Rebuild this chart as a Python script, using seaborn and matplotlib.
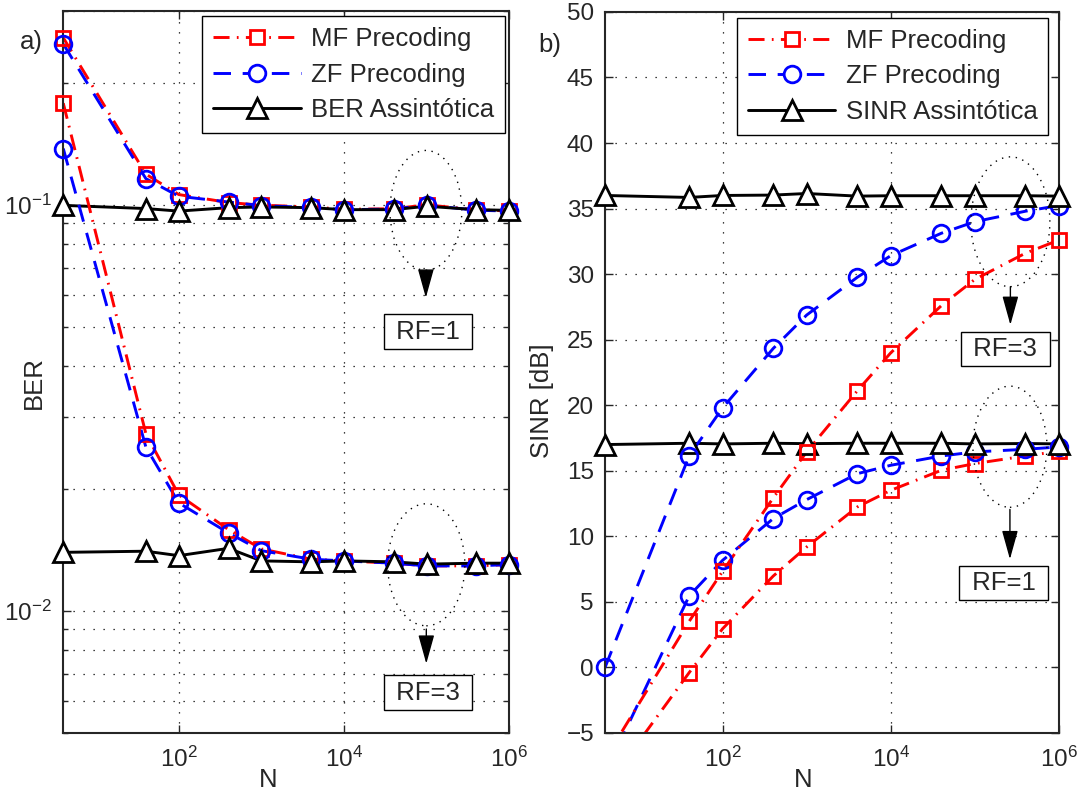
import numpy as np
import pandas as pd
import matplotlib
matplotlib.use("Agg")
import matplotlib.pyplot as plt
import seaborn as sns
from matplotlib.lines import Line2D
from matplotlib.patches import Ellipse
from matplotlib.ticker import LogLocator, NullLocator, NullFormatter, FixedLocator

sns.set_style("ticks")
plt.rcParams['font.family'] = ['Liberation Sans', 'DejaVu Sans']
plt.rcParams['mathtext.fontset'] = 'custom'
plt.rcParams['mathtext.rm'] = 'Liberation Sans'
plt.rcParams['axes.unicode_minus'] = True

# number of antennas
N = [4, 40, 100, 400, 1000, 4000, 1e4, 4e4, 1e5, 4e5, 1e6]

# a) BER
ber_mf_rf1 = [0.258, 0.119, 0.106, 0.1013, 0.0998, 0.0988, 0.0975, 0.0978, 0.1, 0.0972, 0.0966]
ber_zf_rf1 = [0.249, 0.116, 0.105, 0.1016, 0.0995, 0.0985, 0.0973, 0.0976, 0.0998, 0.097, 0.0965]
ber_asy_rf1 = [0.0997, 0.0979, 0.0965, 0.0984, 0.0988, 0.0984, 0.0973, 0.0973, 0.0992, 0.0973, 0.0969]
ber_mf_rf3 = [0.178, 0.0273, 0.0193, 0.01585, 0.0142, 0.0134, 0.01327, 0.0131, 0.0129, 0.0129, 0.013]
ber_zf_rf3 = [0.1376, 0.0253, 0.01844, 0.01555, 0.01406, 0.0134, 0.01327, 0.0131, 0.0129, 0.0129, 0.013]
ber_asy_rf3 = [0.01393, 0.01402, 0.01367, 0.01425, 0.01327, 0.0132, 0.01327, 0.0132, 0.01303, 0.0131, 0.0131]

# b) SINR [dB]
sinr_mf_rf1 = [-9.2, -0.4, 2.95, 6.97, 9.19, 12.24, 13.51, 15.04, 15.55, 16.13, 16.49]
sinr_zf_rf1 = [-8.1, 5.45, 8.17, 11.35, 12.8, 14.78, 15.42, 16.13, 16.44, 16.64, 16.82]
sinr_asy_rf1 = [17.0, 17.1, 17.05, 17.1, 17.07, 17.1, 17.1, 17.1, 17.05, 17.08, 17.05]
sinr_mf_rf3 = [-7.0, 3.51, 7.33, 12.93, 16.44, 21.1, 24.0, 27.6, 29.6, 31.6, 32.6]
sinr_zf_rf3 = [0.0, 16.13, 19.8, 24.33, 26.88, 29.76, 31.41, 33.12, 34.0, 34.8, 35.23]
sinr_asy_rf3 = [36.0, 35.85, 36.0, 36.03, 36.15, 35.95, 35.98, 35.98, 35.98, 35.98, 35.95]

MF_LS = (0, (5.5, 2.5, 0.6, 2.5))
ZF_LS = (0, (6, 4))
styles = {
    'mf': dict(color='#ff0000', marker='s', ms=10.5, ls=MF_LS, mfc='none'),
    'zf': dict(color='#0000ff', marker='o', ms=12, ls=ZF_LS, mfc='none'),
    'asy': dict(color='black', marker='^', ms=14, ls='-', mfc='white'),
}
LW = 2.1
MEW = 2.0
FS = 18.5   # legend / labels
TFS = 17.5  # tick labels


def draw(ax, y, kind, lo, hi):
    st = styles[kind]
    df = pd.DataFrame({'N': N, 'y': y})
    sns.lineplot(data=df, x='N', y='y', ax=ax, color=st['color'], lw=LW,
                 linestyle=st['ls'], estimator=None, sort=False)
    # markers are not clipped at the frame (only points inside the limits)
    inside = df[(df.y >= lo) & (df.y <= hi)]
    sns.lineplot(data=inside, x='N', y='y', ax=ax, color=st['color'],
                 linestyle='none', marker=st['marker'], markersize=st['ms'],
                 markerfacecolor=st['mfc'], markeredgecolor=st['color'],
                 markeredgewidth=MEW, estimator=None, sort=False, clip_on=False,
                 zorder=3)


fig = plt.figure(figsize=(10.87, 7.95), dpi=100)
ax1 = fig.add_axes([0.0582, 0.078, 0.4103, 0.908])
ax2 = fig.add_axes([0.5566, 0.078, 0.4176, 0.907])

ax1.set_xscale('log')
ax1.set_yscale('log')
ax2.set_xscale('log')

for y, k in [(ber_mf_rf1, 'mf'), (ber_zf_rf1, 'zf'), (ber_asy_rf1, 'asy'),
             (ber_mf_rf3, 'mf'), (ber_zf_rf3, 'zf'), (ber_asy_rf3, 'asy')]:
    draw(ax1, y, k, 0.005, 0.3)
for y, k in [(sinr_mf_rf1, 'mf'), (sinr_zf_rf1, 'zf'), (sinr_asy_rf1, 'asy'),
             (sinr_mf_rf3, 'mf'), (sinr_zf_rf3, 'zf'), (sinr_asy_rf3, 'asy')]:
    draw(ax2, y, k, -5, 50)

ax1.set_xlim(4, 1e6)
ax1.set_ylim(0.005, 0.3)
ax2.set_xlim(4, 1e6)
ax2.set_ylim(-5, 50)

grid_kw = dict(color='black', linestyle=(0, (1, 7)), linewidth=0.9)
for ax in (ax1, ax2):
    ax.xaxis.set_major_locator(FixedLocator([1e2, 1e4, 1e6]))
    ax.xaxis.set_minor_locator(NullLocator())
    ax.tick_params(which='both', direction='in', top=True, right=True,
                   labelsize=TFS, width=1.0, pad=8)
    ax.tick_params(axis='x', which='major', pad=10)
    ax.tick_params(which='major', length=6)
    ax.tick_params(which='minor', length=3.5)
    for s in ax.spines.values():
        s.set_linewidth(1.5)
    ax.grid(True, which='major', **grid_kw)
    ax.set_xlabel('N', fontsize=FS)

ax1.yaxis.set_major_locator(FixedLocator([1e-2, 1e-1]))
ax1.yaxis.set_minor_locator(LogLocator(base=10, subs=np.arange(2, 10)))
ax1.yaxis.set_minor_formatter(NullFormatter())
ax1.grid(True, which='minor', axis='y', **grid_kw)
ax2.set_yticks(np.arange(-5, 51, 5))

ax1.set_ylabel('BER', fontsize=FS)
ax2.set_ylabel('SINR [dB]', fontsize=FS)
ax1.xaxis.set_label_coords(0.460, -0.0485)
ax2.xaxis.set_label_coords(0.436, -0.0485)
ax1.yaxis.set_label_coords(-0.040, 0.485)
ax2.yaxis.set_label_coords(-0.113, 0.461)


def handles(last):
    h = []
    for k, lab in [('mf', 'MF Precoding'), ('zf', 'ZF Precoding'), ('asy', last)]:
        st = styles[k]
        h.append(Line2D([], [], color=st['color'], lw=LW, linestyle=st['ls'],
                        marker=st['marker'], markersize=st['ms'],
                        markerfacecolor='white', markeredgecolor=st['color'],
                        markeredgewidth=MEW, label=lab))
    return h


for ax, last, anchor in [(ax1, 'BER Assintótica', (0.990, 0.9926)),
                         (ax2, 'SINR Assintótica', (0.976, 0.9917))]:
    leg = ax.legend(handles=handles(last), loc='upper right', bbox_to_anchor=anchor,
                    fontsize=FS, frameon=True, fancybox=False, framealpha=1,
                    edgecolor='black', handlelength=3.4, handletextpad=0.4,
                    labelspacing=0.45, borderpad=0.42, numpoints=1,
                    borderaxespad=0)
    leg.get_frame().set_linewidth(1.0)

# RF annotations: dotted ellipse, arrow and boxed label (axes fractions)
ann = [
    (ax1, 0.813, 0.724, 0.161, 0.166, 0.640, 0.603, 0.817, 0.556, 'RF=1'),
    (ax1, 0.814, 0.233, 0.173, 0.169, 0.144, 0.096, 0.818, 0.056, 'RF=3'),
    (ax2, 0.893, 0.709, 0.174, 0.180, 0.619, 0.566, 0.882, 0.533, 'RF=3'),
    (ax2, 0.892, 0.397, 0.163, 0.168, 0.310, 0.241, 0.878, 0.208, 'RF=1'),
]
for ax, ex, ey, ew, eh, a0, a1, tx, ty, lab in ann:
    ax.add_patch(Ellipse((ex, ey), ew, eh, transform=ax.transAxes, fill=False,
                         edgecolor='black', linewidth=1.0, linestyle=(0, (1, 4)),
                         zorder=4))
    ax.annotate('', xy=(ex, a1), xytext=(ex, a0), xycoords='axes fraction',
                arrowprops=dict(arrowstyle='-|>,head_length=0.9,head_width=0.25',
                                color='black', lw=1.0, mutation_scale=20,
                                shrinkA=0, shrinkB=0), zorder=4)
    ax.text(tx, ty, ' ' + lab + ' ', transform=ax.transAxes, ha='center',
            va='center', fontsize=FS, zorder=5,
            bbox=dict(boxstyle='square,pad=0.2', fc='white', ec='black', lw=1.0))

fig.text(31 / 1087, 1 - 42 / 795, 'a)', fontsize=FS, ha='center', va='center')
fig.text(550 / 1087, 1 - 45 / 795, 'b)', fontsize=FS, ha='center', va='center')

fig.savefig('out.png', dpi=100)
